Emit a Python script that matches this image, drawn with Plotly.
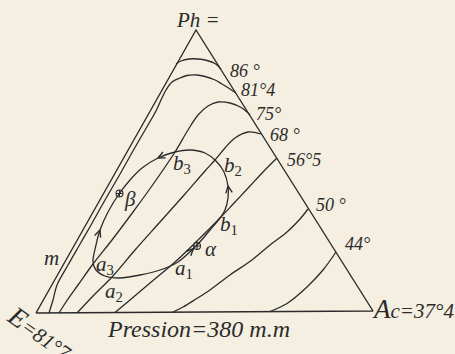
import numpy as np
import plotly.graph_objects as go

# Plate coordinates (1 unit = 1 px), origin at the E corner of the triangle.
E_V = (0, 0)
AC_V = (337, 2)
PH_V = (160, 283)

# Isotherms: boiling temperature curves at 380 mm
T86_X = [140, 145, 153, 162, 171, 179, 185]
T86_Y = [249, 252, 254, 254, 252.5, 249.5, 244]

T814_X = [13, 17, 21, 32, 43.5, 55, 69, 83.5, 97.5, 112, 120.5, 125, 130, 136, 144, 151, 161, 169, 178, 186, 194, 200]
T814_Y = [0, 13, 28, 48, 68, 88, 113, 138, 163, 188, 203, 213, 223, 231, 235, 237.5, 238, 236.5, 233.5, 229, 224, 220]

T75_X = [23, 30, 42, 57, 76, 97, 118, 139, 152, 162, 172, 182, 194, 206, 214]
T75_Y = [0, 11, 28, 49, 73, 101, 130, 161, 183, 198, 207, 211, 210, 205, 198]

T68_X = [41, 58, 76, 99, 124, 149, 169, 179, 189, 199, 212, 225]
T68_Y = [0, 18, 36, 63, 91, 119, 142, 153, 165, 175, 181, 179]

T565_X = [79, 94, 114, 139, 161, 184, 199, 214, 227, 241]
T565_Y = [0.5, 13, 30, 51, 72, 95, 111, 127, 141, 155]

T50_X = [137, 147, 160, 174, 194, 216, 234, 251, 264, 272]
T50_Y = [1, 6, 14, 23, 38, 53, 68, 81, 94, 104]

T44_X = [234, 251, 271, 287, 300]
T44_Y = [1.5, 9.5, 26, 43, 61]

ISO_LABELS = ["86 °", "81°4", "75°", "68 °", "56°5", "50 °", "44°"]
ISO_LABEL_X = [209, 222, 232, 248.5, 268, 294.5, 321]
ISO_LABEL_Y = [242.5, 223.5, 199.5, 178.5, 153.5, 108.5, 69]

# Closed distillation cycle
LOOP_X = [84, 69, 60, 57, 60, 64, 72, 83, 94, 106, 122, 139, 154, 169, 180, 188, 192, 192, 189, 184, 174, 161, 142, 124, 104, 84]
LOOP_Y = [35, 37, 43, 51, 68, 83, 101, 119, 133, 145, 155, 161, 163, 160, 152, 141, 127, 115, 103, 95, 83, 68, 51, 43, 38, 35]

# Arrowheads on the cycle: vertex index, sense along the list, shift along tangent
ARROW_AT = [5, 10, 16, 21]
ARROW_SENSE = [1, -1, -1, -1]
ARROW_SHIFT = [0, 0, 0, -5]

# Singular points
POINT_NAMES = ["α", "β"]
POINT_X = [161, 83.5]
POINT_Y = [67, 119.5]

# Point labels
TAGS = ["<i>a</i><sub>1</sub>", "<i>a</i><sub>2</sub>", "<i>a</i><sub>3</sub>",
        "<i>b</i><sub>1</sub>", "<i>b</i><sub>2</sub>", "<i>b</i><sub>3</sub>",
        "<i>α</i>", "<i>β</i>", "<i>m</i>"]
TAG_X = [148, 78, 69, 193, 197, 146, 175, 94, 15.5]
TAG_Y = [44, 21, 48, 88, 147, 149, 64, 114, 55]

INK = "#2b2b2b"
PAPER = "#F4EFE0"
FONT = "Liberation Serif"

fig = go.Figure()

# Triangle frame
fig.add_trace(go.Scatter(
    x=[E_V[0], AC_V[0], PH_V[0], E_V[0]], y=[E_V[1], AC_V[1], PH_V[1], E_V[1]],
    mode="lines", line=dict(color=INK, width=1.4), hoverinfo="skip"))

for xs, ys in [(T86_X, T86_Y), (T814_X, T814_Y), (T75_X, T75_Y), (T68_X, T68_Y),
               (T565_X, T565_Y), (T50_X, T50_Y), (T44_X, T44_Y)]:
    fig.add_trace(go.Scatter(x=xs, y=ys, mode="lines",
                             line=dict(color=INK, width=1.3, shape="spline", smoothing=1.0),
                             hoverinfo="skip"))

fig.add_trace(go.Scatter(x=LOOP_X, y=LOOP_Y, mode="lines",
                         line=dict(color=INK, width=1.3, shape="spline", smoothing=1.0),
                         hoverinfo="skip"))

# Open arrowheads following the tangent of the cycle
lp = np.column_stack([LOOP_X, LOOP_Y]).astype(float)
ax_, ay_ = [], []
for i, s, sh in zip(ARROW_AT, ARROW_SENSE, ARROW_SHIFT):
    d = (lp[i + 1] - lp[i - 1]) * s
    d /= np.linalg.norm(d)
    n = np.array([-d[1], d[0]])
    tip = lp[i] + sh * d
    back = tip - 7 * d
    p1, p2 = back + 3.2 * n, back - 3.2 * n
    ax_ += [p1[0], tip[0], p2[0], None]
    ay_ += [p1[1], tip[1], p2[1], None]
fig.add_trace(go.Scatter(x=ax_, y=ay_, mode="lines",
                         line=dict(color=INK, width=1.4), hoverinfo="skip"))

fig.add_trace(go.Scatter(x=POINT_X, y=POINT_Y, mode="markers", text=POINT_NAMES,
                         marker=dict(symbol="circle-cross-open", size=7, color=INK,
                                     line=dict(width=1.1, color=INK)),
                         hoverinfo="skip"))

ann = []
for t, x, y in zip(ISO_LABELS, ISO_LABEL_X, ISO_LABEL_Y):
    ann.append(dict(x=x, y=y, text=f"<i>{t}</i>", font=dict(size=18)))
for t, x, y in zip(TAGS, TAG_X, TAG_Y):
    ann.append(dict(x=x, y=y, text=t, font=dict(size=21)))

ann += [
    dict(x=162, y=293, text="<i>Ph =</i>", font=dict(size=21)),
    dict(x=334, y=4, xanchor="left",
         text="<i><span style='font-size:27px'>A</span>c=37°4</i>", font=dict(size=21)),
    dict(x=4, y=-20, textangle=35,
         text="<i><span style='font-size:27px'>E</span>=81°7</i>", font=dict(size=21)),
    dict(x=162.5, y=-16, text="<i>Pression=380 m.m</i>", font=dict(size=24)),
]
for a in ann:
    a.update(xref="x", yref="y", showarrow=False)
    a["font"].update(family=FONT, color=INK)

fig.update_layout(
    width=455, height=354, autosize=False,
    margin=dict(l=0, r=0, t=0, b=0),
    paper_bgcolor=PAPER, plot_bgcolor=PAPER,
    showlegend=False,
    xaxis=dict(range=[-36, 419], visible=False, fixedrange=True),
    yaxis=dict(range=[-41, 313], visible=False, fixedrange=True),
    annotations=ann,
)

fig.write_html("out.html", config={"displayModeBar": False})
